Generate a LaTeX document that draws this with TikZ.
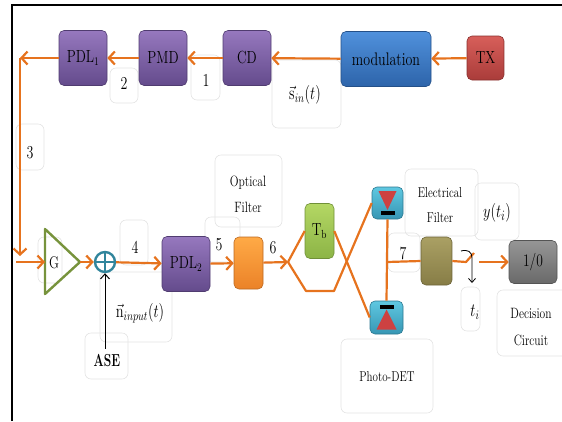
\documentclass[tikz,border=0pt]{standalone}
\usepackage{amsmath}
\usepackage{graphicx}
\usetikzlibrary{arrows.meta,calc}
\newcommand{\stx}[1]{\scalebox{1}[1.3]{#1}}
\definecolor{oline}{RGB}{230,115,30}
\definecolor{purT}{RGB}{150,120,190}\definecolor{purB}{RGB}{100,75,140}
\definecolor{bluT}{RGB}{80,145,220}\definecolor{bluB}{RGB}{45,100,170}
\definecolor{redT}{RGB}{215,95,90}\definecolor{redB}{RGB}{170,60,58}
\definecolor{grnT}{RGB}{180,215,100}\definecolor{grnB}{RGB}{140,180,70}
\definecolor{orT}{RGB}{255,170,70}\definecolor{orB}{RGB}{235,130,40}
\definecolor{olT}{RGB}{170,160,100}\definecolor{olB}{RGB}{135,125,70}
\definecolor{gyT}{RGB}{150,150,150}\definecolor{gyB}{RGB}{105,105,105}
\definecolor{cyT}{RGB}{95,200,225}\definecolor{cyB}{RGB}{55,150,180}
\definecolor{tealc}{RGB}{49,133,156}
\definecolor{trig}{RGB}{119,147,60}
\definecolor{detred}{RGB}{205,65,65}
\tikzset{
  comp/.style 2 args={rounded corners=5pt, top color=#1, bottom color=#2, draw=#2!80!black, line width=0.6pt, inner sep=0pt, font=\fontsize{13.5}{15}\selectfont},
  wire/.style={draw=oline, line width=2.2pt},
  oarr/.style={wire, -{Straight Barb[length=6pt,width=13pt]}},
  lbox/.style={draw=gray!22, rounded corners=6pt, line width=0.6pt},
  lab/.style={font=\fontsize{14}{16}\selectfont, inner sep=0pt},
  slab/.style={font=\fontsize{11.5}{14}\selectfont, inner sep=0pt},
}
\begin{document}
\begin{tikzpicture}[x=1pt,y=-1pt]
\useasboundingbox (0,0) rectangle (562,421);
% frame
\draw[line width=1.4pt] (12,421) -- (12,5) -- (562,5);
% label boxes
\draw[lbox] (110,68) rectangle (138,103);
\draw[lbox] (191,55) rectangle (220,100);
\draw[lbox] (272,60) rectangle (341,128);
\draw[lbox] (16,124) rectangle (44,170);
\draw[lbox] (38,237) rectangle (62,283);
\draw[lbox] (120,220) rectangle (148,265);
\draw[lbox] (205,217) rectangle (240,262);
\draw[lbox] (215,155) rectangle (282,227);
\draw[lbox] (388,233) rectangle (420,272);
\draw[lbox] (405,169) rectangle (478,236);
\draw[lbox] (475,183) rectangle (519,240);
\draw[lbox] (461,287) rectangle (480,331);
\draw[lbox] (497,290) rectangle (575,356);
\draw[lbox] (341,339) rectangle (433,413);
\draw[lbox] (85,333) rectangle (128,379);
\draw[lbox] (100,272) rectangle (172,342);
% labels
\node[lab] (l1) at (206,80) {\stx{1}};
\node[lab] (l2) at (124,83) {\stx{2}};
\node[lab] (l3) at (30,153) {\stx{3}};
\node[lab] (l4) at (135,247) {\stx{4}};
\node[lab] (l5) at (219,245) {\stx{5}};
\node[lab] (l6) at (273,248) {\stx{6}};
\node[lab] (l7) at (403,254) {\stx{7}};
\node[lab] (sin) at (305,95) {\stx{$\vec{\mathrm{s}}_{in}(t)$}};
\node[lab] (nin) at (140,313) {\stx{$\vec{\mathrm{n}}_{input}(t)$}};
\node[lab, font=\fontsize{15}{17}\selectfont] (yti) at (497,213) {\stx{$y(t_i)$}};
\node[lab] (ti) at (475,312) {\stx{$t_i$}};
\node[slab] (optl1) at (248,183) {\stx{Optical}};
\node[slab] (optl2) at (248,207) {\stx{Filter}};
\node[slab, font=\fontsize{11}{13}\selectfont] (ell1) at (440,193) {\stx{Electrical}};
\node[slab, font=\fontsize{11}{13}\selectfont] (ell2) at (440,218) {\stx{Filter}};
\node[slab] (decl1) at (531,313) {\stx{Decision}};
\node[slab] (decl2) at (531,340) {\stx{Circuit}};
\node[slab, font=\fontsize{11}{13}\selectfont] (pdl) at (387,377) {\stx{Photo-DET}};
\node[font=\bfseries\fontsize{12}{14}\selectfont, inner sep=0pt] (ase) at (107,361) {\scalebox{1}[1.45]{ASE}};
% components
\node[comp={purT}{purB}, minimum width=48pt, minimum height=55pt] (pdl1) at (83,58) {\stx{PDL$_1$}};
\node[comp={purT}{purB}, minimum width=48pt, minimum height=55pt] (pmd) at (163,58) {\stx{PMD}};
\node[comp={purT}{purB}, minimum width=48pt, minimum height=55pt] (cd) at (247,58) {\stx{CD}};
\node[comp={bluT}{bluB}, minimum width=90pt, minimum height=55pt, font=\fontsize{14}{16}\selectfont] (mod) at (386,59) {\stx{modulation}};
\node[comp={redT}{redB}, minimum width=37pt, minimum height=44pt] (tx) at (485.5,58) {\stx{TX}};
\node[comp={purT}{purB}, minimum width=48pt, minimum height=55pt] (pdl2) at (186,264) {\stx{PDL$_2$}};
\node[comp={orT}{orB}, minimum width=29pt, minimum height=52pt] (of) at (248.5,263) {};
\node[comp={grnT}{grnB}, minimum width=29pt, minimum height=55pt] (tb) at (319.5,231) {\stx{T$_\mathrm{b}$}};
\node[comp={olT}{olB}, minimum width=31pt, minimum height=48pt] (ef) at (436.5,261) {};
\node[comp={gyT}{gyB}, minimum width=48pt, minimum height=43pt] (dc) at (533,262) {\stx{1/0}};
\node[comp={cyT}{cyB}, minimum width=31pt, minimum height=32pt] (det1) at (387.5,203) {};
\node[comp={cyT}{cyB}, minimum width=33pt, minimum height=33pt] (det2) at (386.5,317.5) {};
% detector glyphs
\fill[detred] ($(det1.center)+(-9,-12)$) -- ($(det1.center)+(9,-12)$) -- ($(det1.center)+(0,7)$) -- cycle;
\fill[black] ($(det1.center)+(-7,8)$) rectangle ($(det1.center)+(7,12)$);
\fill[detred] ($(det2.center)+(-10,12)$) -- ($(det2.center)+(10,12)$) -- ($(det2.center)+(0,-8)$) -- cycle;
\fill[black] ($(det2.center)+(-7,-13)$) rectangle ($(det2.center)+(7,-9)$);
% amplifier and adder
\coordinate (gin) at (45,262);
\coordinate (gout) at (80,262);
\draw[draw=trig, line width=2.4pt, line join=round] (45,229) -- (gout) -- (45,294) -- cycle;
\node[font=\fontsize{13}{15}\selectfont, inner sep=0pt] (g) at (54,263) {\stx{G}};
\node[circle, draw=tealc, line width=2.4pt, minimum size=20pt, inner sep=0pt] (sum) at (105,262) {};
\draw[tealc, line width=2.4pt] (sum.north) -- (sum.south) (sum.west) -- (sum.east);
% top row connectors
\coordinate (c1) at (20,58);
\coordinate (c2) at (20,256);
\coordinate (c3) at (16,262);
\draw[oarr] (tx) -- (mod);
\draw[oarr] (mod) -- (cd);
\draw[oarr] (cd) -- (pmd);
\draw[oarr] (pmd) -- (pdl1);
\draw[oarr] (pdl1) -- (c1);
\draw[oarr] (c1) -- (c2);
\draw[oarr] (c3) -- (gin);
% bottom row
\draw[oarr] (gout) -- (sum);
\draw[oarr] (sum) -- (pdl2);
\draw[oarr] (pdl2) -- (of);
\coordinate (split) at (288,262);
\draw[oarr] (of) -- (split);
\coordinate (lowA) at (306,291);
\coordinate (lowB) at (334,291);
\draw[wire, line join=round] (split) -- (tb.west);
\draw[wire, line join=round] (split) -- (lowA) -- (lowB) -- (det1.west);
\draw[wire] (tb.east) -- (det2.west);
\draw[wire] (det1.south) -- (det2.north);
\coordinate (j) at (387,262);
\draw[wire] (j) -- (ef.west);
\coordinate (sw1) at (466,262);
\coordinate (sw2) at (474,253);
\coordinate (sw3) at (479,262);
\draw[wire, line join=round] (ef.east) -- (sw1) -- (sw2);
\draw[oarr] (sw3) -- (dc.west);
\coordinate (hk) at (461,251);
\coordinate (hkend) at (472,283);
\draw[-{Straight Barb[length=4pt,width=7pt]}, line width=0.8pt] (hk) .. controls (468,249) and (472,252) .. (472,258) -- (hkend);
% ASE arrow
\draw[-{Straight Barb[length=5pt,width=9pt]}, line width=1pt] (sum.south |- ase.north) ++(0,-6) -- (sum.south);
\end{tikzpicture}
\end{document}
